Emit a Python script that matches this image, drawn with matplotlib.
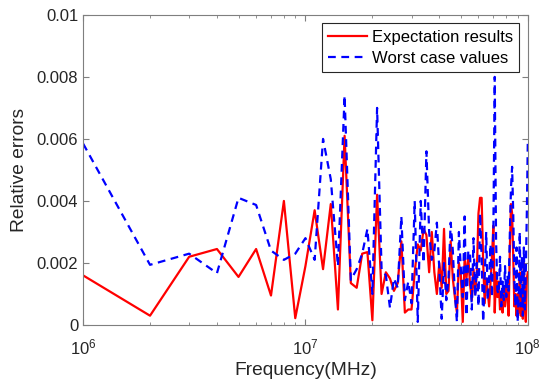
import numpy as np
import matplotlib
matplotlib.use('Agg')
import matplotlib.pyplot as plt
from matplotlib.ticker import LogLocator, FixedLocator

plt.rcParams['font.family'] = ['Liberation Sans', 'DejaVu Sans']

# frequency points 1..100 MHz steps (x 1e6)
freq = np.arange(1, 101) * 1e6

# relative errors (x 1e-3)
expect = [1.6, 0.3, 2.2, 2.45, 1.55, 2.45, 0.95, 4.0, 0.22, 1.9,
          3.7, 1.8, 3.9, 0.5, 6.1, 1.35, 1.2, 2.3, 2.35, 0.15,
          4.2, 1.0, 1.7, 1.5, 1.1, 1.35, 2.7, 0.4, 0.5, 0.5,
          1.7, 2.6, 2.4, 3.1, 2.9, 1.7, 3.0, 1.7, 1.0, 2.0,
          1.2, 3.1, 1.0, 1.1, 2.7, 1.5, 0.9, 0.4, 2.0, 1.6,
          0.1, 2.2, 1.5, 2.2, 1.3, 0.8, 1.8, 1.0, 1.7, 3.6,
          4.1, 4.1, 2.0, 0.7, 1.5, 1.1, 0.6, 1.4, 2.2, 3.2,
          0.4, 1.7, 0.9, 1.4, 0.5, 1.0, 0.4, 1.2, 0.6, 1.3,
          0.9, 0.3, 2.4, 3.9, 3.6, 2.2, 0.6, 1.0, 0.3, 1.0,
          0.4, 1.7, 0.3, 1.0, 0.2, 2.0, 0.6, 0.1, 1.5, 1.7]

worst = [5.85, 1.94, 2.3, 1.67, 4.1, 3.87, 2.4, 2.1, 2.3, 2.8,
         2.1, 6.0, 4.7, 1.9, 7.4, 1.45, 1.8, 2.3, 3.1, 1.0,
         7.0, 1.8, 1.6, 0.55, 1.5, 1.2, 3.5, 0.8, 1.4, 0.7,
         4.0, 0.1, 4.0, 2.0, 5.6, 3.0, 2.1, 2.4, 3.3, 1.8,
         0.2, 2.0, 0.8, 1.5, 3.3, 2.4, 1.0, 0.1, 3.0, 1.8,
         0.9, 3.5, 0.3, 2.4, 2.3, 0.5, 2.8, 0.9, 2.0, 0.6,
         3.6, 2.2, 0.1, 1.5, 3.0, 0.8, 1.5, 2.6, 0.9, 3.0,
         8.0, 2.7, 1.1, 1.0, 2.2, 0.6, 1.4, 0.8, 1.9, 0.9,
         1.6, 1.1, 2.9, 4.4, 5.1, 3.6, 1.5, 0.6, 2.5, 0.1,
         1.0, 3.0, 0.6, 2.2, 0.3, 2.5, 0.5, 1.8, 3.6, 5.9]

yticks = [0, 0.002, 0.004, 0.006, 0.008, 0.01]
ytick_labels = ['0', '0.002', '0.004', '0.006', '0.008', '0.01']

fig = plt.figure(figsize=(5.43, 3.81), dpi=100)
ax = fig.add_axes([0.153, 0.147, 0.819, 0.814])

ax.plot(freq, np.array(expect) * 1e-3, color='#ff0000', lw=1.6, label='Expectation results')
ax.plot(freq, np.array(worst) * 1e-3, color='#0000ff', lw=1.6, ls=(0, (3.5, 2.5)), label='Worst case values')

ax.set_xscale('log')
ax.set_xlim(1e6, 1e8)
ax.set_ylim(0, 0.01)
ax.yaxis.set_major_locator(FixedLocator(yticks))
ax.set_yticklabels(ytick_labels)
ax.xaxis.set_major_locator(LogLocator(base=10))
ax.xaxis.set_minor_locator(LogLocator(base=10, subs=np.arange(2, 10)))

grey = '#262626'
for s in ax.spines.values():
    s.set_color('#7f7f7f')
    s.set_linewidth(0.8)
ax.tick_params(which='both', direction='in', top=True, right=True, colors='#7f7f7f',
               labelcolor=grey, labelsize=12)
ax.tick_params(which='major', length=4)
ax.tick_params(which='minor', length=2.5)
ax.tick_params(axis='x', which='major', pad=9)

ax.set_xlabel('Frequency(MHz)', fontsize=13.8, color=grey, labelpad=3)
ax.set_ylabel('Relative errors', fontsize=13.8, color=grey, labelpad=6)

leg = ax.legend(loc='upper right', fontsize=12, fancybox=False, framealpha=1,
                edgecolor='#262626', handlelength=2.3, handletextpad=0.3,
                borderpad=0.4, labelspacing=0.35, borderaxespad=0.5)
leg.get_frame().set_linewidth(0.8)

fig.savefig('out.png', dpi=100)
